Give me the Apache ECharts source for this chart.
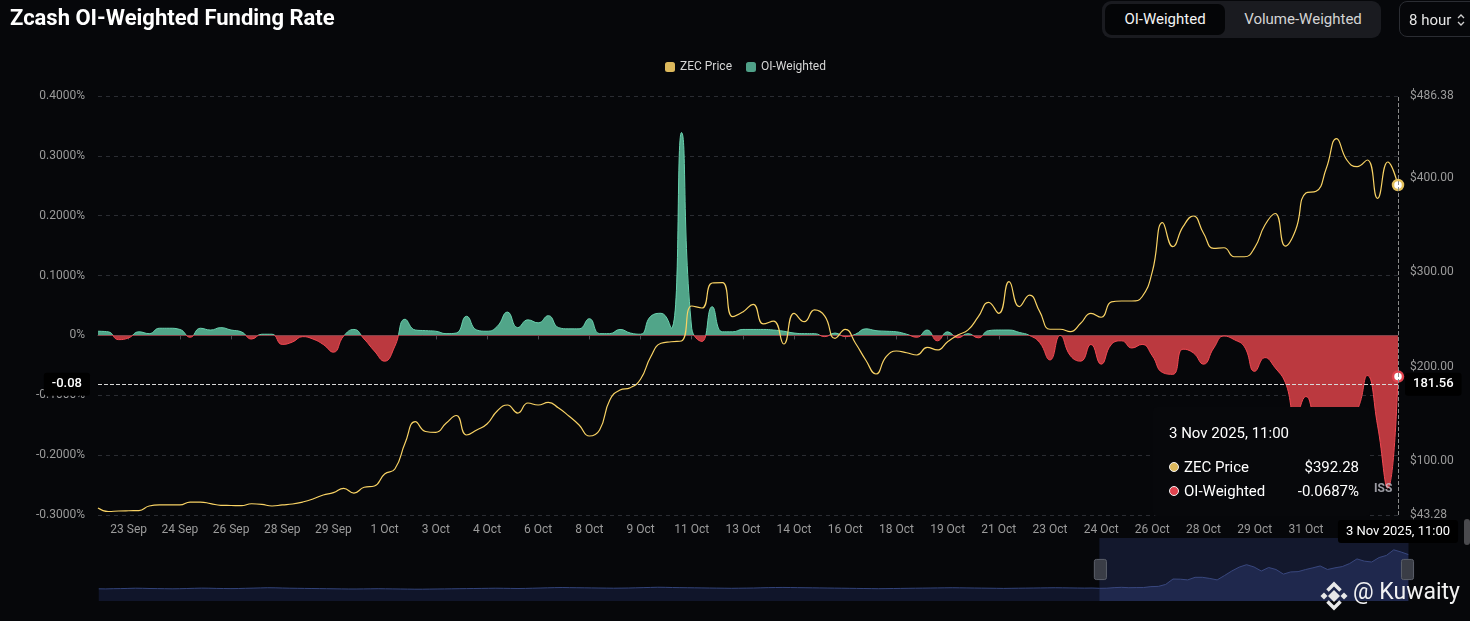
<!DOCTYPE html>
<html>
<head>
<meta charset="utf-8">
<script src="https://cdn.jsdelivr.net/npm/echarts@6/dist/echarts.min.js"></script>
<style>
html,body{margin:0;padding:0;background:#06070a;width:1470px;height:621px;overflow:hidden;font-family:Roboto,"Noto Sans",sans-serif;}
#chart{position:absolute;left:0;top:0;width:1470px;height:621px;}
.toggle{position:absolute;left:1102px;top:1px;width:279px;height:37px;background:#1a1b20;border-radius:9px;z-index:5;}
.btn{position:absolute;top:3px;height:31px;line-height:31px;font-size:15px;text-align:center;}
.btn.active{left:3px;width:120px;background:#040507;border-radius:7px;color:#f4f4f4;}
.btn.other{left:123px;width:156px;color:#d4d4d4;}
.select{position:absolute;left:1399px;top:1px;width:100px;height:36px;border:1px solid #2b2d33;border-radius:8px;color:#e6e6e6;font-size:15px;line-height:36px;box-sizing:border-box;padding-left:9px;z-index:5;}
.select svg{position:absolute;left:56px;top:11px;}
</style>
</head>
<body>
<div id="chart"></div>
<div class="toggle"><div class="btn active">OI-Weighted</div><div class="btn other">Volume-Weighted</div></div>
<div class="select">8 hour<svg width="10" height="14" viewBox="0 0 10 14"><path d="M2 5 L5 2 L8 5 M2 9 L5 12 L8 9" stroke="#cfcfcf" stroke-width="1.3" fill="none"/></svg></div>
<script>
// ---- data ----
const MONTHS = ['Jan','Feb','Mar','Apr','May','Jun','Jul','Aug','Sep','Oct','Nov','Dec'];
const seriesStartUTC = Date.UTC(2025, 8, 22, 3); // first 8-hour funding timestamp
const stepHours = 8;

const zecPrice = [
  50.7, 47.0, 47.5, 47.8, 48.0, 52.8, 53.9, 53.9, 53.9, 57.0,
  57.0, 55.4, 53.5, 53.3, 53.1, 55.2, 54.6, 52.8, 53.9, 54.9,
  57.0, 60.2, 64.4, 66.9, 71.5, 66.5, 72.6, 74.0, 86.6, 91.9,
  119.4, 142.0, 131.6, 130.7, 140.3, 148.5, 127.9, 133.2, 139.5, 153.3,
  159.6, 151.1, 161.7, 159.6, 162.3, 156.4, 148.0, 138.5, 126.8, 133.2,
  164.9, 175.5, 177.9, 186.8, 210.7, 224.9, 226.5, 227.3, 264.3, 262.2,
  288.6, 289.0, 253.0, 258.0, 266.1, 245.3, 248.4, 224.1, 256.6, 247.7,
  260.1, 253.7, 230.1, 239.6, 224.9, 207.2, 192.4, 210.7, 216.7, 214.9,
  212.5, 220.6, 217.8, 226.6, 233.6, 239.0, 253.0, 268.2, 256.6, 290.0,
  263.6, 275.9, 258.3, 239.7, 239.7, 237.2, 246.0, 256.6, 252.4, 268.6,
  269.6, 269.6, 274.1, 300.6, 352.4, 327.0, 348.2, 359.5, 341.2, 325.3,
  325.9, 316.4, 316.4, 326.0, 350.0, 362.1, 327.7, 344.7, 383.8, 385.6,
  410.0, 441.4, 418.7, 411.6, 418.7, 378.2, 416.6, 392.28
];

const oiWeighted = [
  0.007, 0.006, -0.007, -0.004, 0.006, 0.003, 0.012, 0.012, 0.010, -0.003,
  0.012, 0.009, 0.013, 0.009, 0.006, -0.006, 0.002, 0.002, -0.015, -0.011,
  -0.002, -0.006, -0.015, -0.028, -0.001, 0.010, -0.006, -0.026, -0.043, -0.018,
  0.027, 0.009, 0.008, 0.007, 0.003, 0.004, 0.032, 0.009, 0.007, 0.015,
  0.039, 0.013, 0.026, 0.021, 0.033, 0.013, 0.011, 0.011, 0.028, 0.003,
  0.003, 0.010, 0.004, 0.002, 0.032, 0.037, 0.012, 0.339, 0.012, -0.010,
  0.048, 0.006, 0.006, 0.010, 0.010, 0.010, 0.009, 0.007, 0.004, 0.003,
  0.003, -0.002, 0.004, -0.002, 0.002, 0.011, 0.008, 0.007, 0.006, 0.002,
  -0.003, 0.009, -0.009, 0.006, -0.004, 0.003, -0.004, 0.008, 0.009, 0.009,
  0.005, 0.000, -0.012, -0.041, 0.000, -0.034, -0.043, -0.015, -0.048, -0.015,
  -0.009, -0.021, -0.015, -0.034, -0.062, -0.065, -0.023, -0.029, -0.048, -0.021,
  -0.001, -0.007, -0.019, -0.060, -0.037, -0.054, -0.079, -0.135, -0.102, -0.140,
  -0.150, -0.145, -0.135, -0.125, -0.067, -0.150, -0.255, -0.0687
];

// daily ZEC price history before the visible window (overview strip)
const earlyPrice = [
  42,41,43,44,46,48,47,45,44,43,
  42,43,45,47,49,48,46,45,44,45,
  47,49,51,53,52,50,48,47,46,45,
  44,43,42,41,40,40,41,42,43,42,
  41,40,39,38,38,39,40,41,42,43,
  44,45,46,47,48,47,46,45,46,48,
  50,52,54,55,54,53,52,51,50,49,
  48,49,50,52,54,56,58,57,55,54,
  53,52,51,50,49,48,47,48,49,50,
  52,54,55,56,55,54,53,52,51,50,
  49,48,47,46,45,44,43,44,45,46,
  47,48,49,50,51,52,53,52,51,50,
  49,48,47,46,47,48,49,50,51,52,
  53,52,51,50,49,50
];

const rateAxisRange = [-0.3, 0.4];
const rateAxisStep = 0.1;
const priceAxisRange = [43.28, 486.38];
const legendNames = ['ZEC Price', 'OI-Weighted'];
const labelEvery = 5, labelOffset = 3;

// ---- derived ----
const categories = zecPrice.map((_, i) => {
  const d = new Date(seriesStartUTC + i * stepHours * 3600e3);
  return d.getUTCDate() + ' ' + MONTHS[d.getUTCMonth()] + ' ' + d.getUTCFullYear() + ', ' +
    String(d.getUTCHours()).padStart(2, '0') + ':00';
});
const overviewPrice = earlyPrice.concat(zecPrice.filter((v, i) => (zecPrice.length - 1 - i) % 3 === 0));
const zoomStart = earlyPrice.length / (overviewPrice.length - 1) * 100;
const labelInterval = (i) => (i - labelOffset) % labelEvery === 0;

const W = 1470, H = 621;
const GRID = {left: 98, right: 72, top: 96, bottom: 106};
const zeroOffset = rateAxisRange[1] / (rateAxisRange[1] - rateAxisRange[0]);
function splitGradient(pos, neg) {
  return new echarts.graphic.LinearGradient(0, GRID.top, 0, H - GRID.bottom, [
    {offset: 0, color: pos}, {offset: zeroOffset, color: pos},
    {offset: zeroOffset, color: neg}, {offset: 1, color: neg}
  ], true);
}

const chart = echarts.init(document.getElementById('chart'), null, {width: W, height: H});
const FONT = 'Roboto';

const option = {
  backgroundColor: '#06070a',
  animation: false,
  textStyle: {fontFamily: FONT},
  title: {
    text: 'Zcash OI-Weighted Funding Rate', left: 5, top: 3,
    textStyle: {color: '#ffffff', fontSize: 22, fontWeight: 700, fontFamily: FONT}
  },
  legend: {
    data: legendNames, left: 660, top: 56, icon: 'roundRect', itemWidth: 10, itemHeight: 10, itemGap: 14,
    textStyle: {color: '#d6d6d6', fontSize: 12, fontFamily: FONT}
  },
  grid: [
    GRID,
    {left: 96, right: 64, top: 538, height: 63, show: false}
  ],
  tooltip: {
    trigger: 'axis', showDelay: 0, hideDelay: 0, transitionDuration: 0, alwaysShowContent: true,
    axisPointer: {
      type: 'cross',
      lineStyle: {color: '#8a8a8a', type: 'dashed', width: 1},
      crossStyle: {color: '#d8d8d8', type: 'dashed', width: 1},
      label: {backgroundColor: '#000', color: '#fff', fontSize: 13, padding: [5, 8], fontFamily: FONT}
    },
    backgroundColor: '#07080b', borderWidth: 0, padding: [16, 11, 13, 16],
    extraCssText: 'box-shadow:none;border-radius:4px;',
    position: () => [1153, 407],
    formatter: (params) => {
      const title = params[0].axisValue;
      const rows = params.map(p => {
        const isPrice = p.seriesIndex === 0;
        const val = isPrice ? '$' + p.value.toFixed(2) : p.value.toFixed(4) + '%';
        const c = isPrice ? '#dcb85c' : (p.value < 0 ? '#e0434e' : '#5fbe9f');
        return '<div style="display:flex;justify-content:space-between;align-items:center;height:24px;">' +
          '<span style="display:flex;align-items:center;"><span style="display:inline-block;width:8px;height:8px;border-radius:50%;background:' + c +
          ';border:1.5px solid #f2f2f2;margin-right:5px;"></span>' + p.seriesName + '</span><span>' + val + '</span></div>';
      });
      return '<div style="width:190px;font-family:Roboto;color:#fff;font-size:15px;">' +
        '<div style="height:20px;line-height:20px;margin-bottom:12px;">' + title + '</div>' + rows.join('') + '</div>';
    }
  },
  xAxis: [
    {
      type: 'category', gridIndex: 0, data: categories, boundaryGap: false, position: 'bottom',
      axisLine: {show: false, onZero: false}, axisTick: {show: false},
      axisLabel: {color: '#9b9b9b', fontSize: 12, margin: 9, interval: labelInterval,
        formatter: v => v.split(' ').slice(0, 2).join(' ')},
      splitLine: {show: false},
      axisPointer: {label: {formatter: p => p.value, margin: 5}}
    },
    {
      type: 'category', gridIndex: 0, data: categories, boundaryGap: false, position: 'bottom',
      axisLine: {show: true, onZero: true, onZeroAxisIndex: 0, lineStyle: {color: '#4a4c52', width: 1}},
      axisTick: {show: true, length: 4, interval: labelInterval, lineStyle: {color: '#4a4c52'}},
      axisLabel: {show: false}, splitLine: {show: false},
      axisPointer: {show: false}
    },
    {type: 'category', gridIndex: 1, show: false, data: overviewPrice.map((_, i) => i), boundaryGap: false}
  ],
  yAxis: [
    {
      type: 'value', gridIndex: 0, position: 'left', min: rateAxisRange[0], max: rateAxisRange[1], interval: rateAxisStep,
      axisLine: {show: false}, axisTick: {show: false},
      axisLabel: {color: '#9b9b9b', fontSize: 12, margin: 13,
        formatter: v => Math.abs(v) < 1e-9 ? '0%' : v.toFixed(4) + '%'},
      splitLine: {show: true, lineStyle: {color: '#2a2c32', type: [4, 4], width: 1}},
      axisPointer: {label: {formatter: p => p.value.toFixed(2), margin: 8, fontWeight: 500}}
    },
    {
      type: 'value', gridIndex: 0, position: 'right', min: priceAxisRange[0], max: priceAxisRange[1],
      axisLine: {show: false}, axisTick: {show: false},
      axisLabel: {color: '#9b9b9b', fontSize: 12, margin: 12, formatter: v => '$' + v.toFixed(2)},
      splitLine: {show: false},
      axisPointer: {label: {formatter: p => p.value.toFixed(2), margin: 7, fontWeight: 500}}
    },
    {type: 'value', gridIndex: 1, show: false, scale: true}
  ],
  series: [
    {
      name: 'ZEC Price', type: 'line', xAxisIndex: 0, yAxisIndex: 1, data: zecPrice, smooth: true,
      showSymbol: false, symbol: 'circle', symbolSize: 10, z: 4,
      lineStyle: {color: '#e2bf5b', width: 1.2}, itemStyle: {color: '#dcb85c'},
      emphasis: {scale: false, lineStyle: {width: 1.2}, itemStyle: {color: '#ffffff', borderColor: '#e2bf5b', borderWidth: 2.5}}
    },
    {
      name: 'OI-Weighted', type: 'line', xAxisIndex: 0, yAxisIndex: 0, data: oiWeighted, smooth: true,
      showSymbol: false, symbol: 'circle', symbolSize: 10, z: 2,
      lineStyle: {width: 1, color: splitGradient('#5fbe9f', '#dc414a')},
      areaStyle: {opacity: 1, color: splitGradient('rgba(74,150,125,1)', 'rgba(170,52,58,1)')},
      itemStyle: {color: '#4fa088'},
      emphasis: {scale: false, lineStyle: {width: 1}, areaStyle: {opacity: 1},
        itemStyle: {color: '#ffffff', borderColor: '#e0434e', borderWidth: 2.5}}
    },
    {
      name: 'overview', type: 'line', xAxisIndex: 2, yAxisIndex: 2, data: overviewPrice,
      showSymbol: false, silent: true, lineStyle: {opacity: 0}, tooltip: {show: false}
    }
  ],
  dataZoom: [{
    type: 'slider', xAxisIndex: 2, start: zoomStart, end: 100,
    left: 96, right: 64, top: 538, height: 63,
    backgroundColor: 'rgba(0,0,0,0)', borderColor: 'rgba(0,0,0,0)',
    fillerColor: 'rgba(36,46,88,0.45)',
    showDataShadow: true,
    dataBackground: {lineStyle: {color: '#33447a', width: 1, opacity: 1}, areaStyle: {color: '#10152a', opacity: 1}},
    selectedDataBackground: {lineStyle: {color: '#4a5b9c', width: 1, opacity: 1}, areaStyle: {color: '#232c52', opacity: 0.8}},
    handleIcon: 'path://M-4,-10h8a2,2 0 0 1 2,2v16a2,2 0 0 1 -2,2h-8a2,2 0 0 1 -2,-2v-16a2,2 0 0 1 2,-2z',
    handleSize: '32%', handleStyle: {color: '#3a3d46', borderColor: '#5c606b', borderWidth: 1},
    moveHandleSize: 0, brushSelect: false, showDetail: false, zoomLock: true,
    emphasis: {handleStyle: {color: '#3a3d46', borderColor: '#5c606b'}}
  }],
  graphic: [
    {type: 'text', left: 1374, top: 483, z: 100, style: {text: 'ISS', fill: 'rgba(205,205,215,0.75)', font: 'bold 12px Roboto'}},
    {type: 'rect', z: 100, shape: {x: 1464, y: 519, width: 6, height: 26, r: 3}, style: {fill: '#4a4a4e'}},
    {type: 'polygon', z: 100, shape: {points: [[1334, 590], [1340, 596], [1334, 602], [1328, 596]]}, style: {fill: '#e8e8e8'}},
    {type: 'polygon', z: 100, shape: {points: [[1324, 592.5], [1327.5, 596], [1324, 599.5], [1320.5, 596]]}, style: {fill: '#e8e8e8'}},
    {type: 'polygon', z: 100, shape: {points: [[1344, 592.5], [1347.5, 596], [1344, 599.5], [1340.5, 596]]}, style: {fill: '#e8e8e8'}},
    {type: 'polyline', z: 100, shape: {points: [[1327.5, 590.5], [1334, 584], [1340.5, 590.5]]}, style: {stroke: '#e8e8e8', lineWidth: 3.5, fill: null}},
    {type: 'polyline', z: 100, shape: {points: [[1327.5, 601.5], [1334, 608], [1340.5, 601.5]]}, style: {stroke: '#e8e8e8', lineWidth: 3.5, fill: null}},
    {type: 'text', left: 1353, top: 582, z: 100, style: {text: '@ Kuwaity', fill: '#f2f2f2', font: '23px Roboto'}}
  ]
};

chart.setOption(option);
chart.dispatchAction({type: 'showTip', x: 1396, y: 384.24});
</script>
</body>
</html>
